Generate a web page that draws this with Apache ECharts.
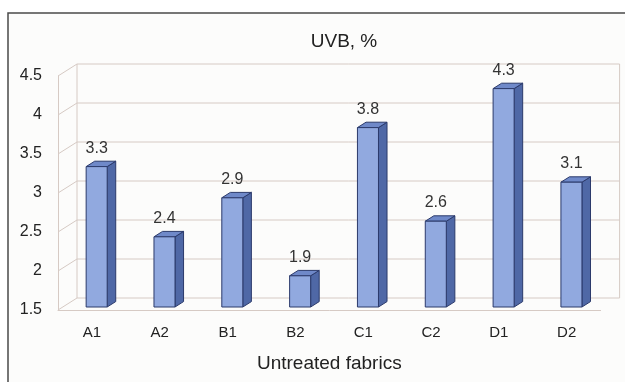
<!DOCTYPE html>
<html>
<head>
<meta charset="utf-8">
<script src="https://cdn.jsdelivr.net/npm/echarts@6/dist/echarts.min.js"></script>
<style>
  html, body { margin: 0; padding: 0; background: #ffffff; }
  #chart { width: 625px; height: 382px; }
</style>
</head>
<body>
<div id="chart"></div>
<script>
const categories = ['A1', 'A2', 'B1', 'B2', 'C1', 'C2', 'D1', 'D2'];
const uvbValues = [3.3, 2.4, 2.9, 1.9, 3.8, 2.6, 4.3, 3.1];
const yTicks = [1.5, 2, 2.5, 3, 3.5, 4, 4.5];
const yMin = 1.5, yMax = 4.5, yStep = 0.5;

const DX = 19, DY = -12;          // full depth offset of the back wall
const FRONT = 0.25, BACK = 0.70;  // bar depth position (fraction)
const GRID_COLOR = '#d6cac4';
const FONT = 'Liberation Sans, Arial, sans-serif';

const chart = echarts.init(document.getElementById('chart'), null, { renderer: 'canvas' });

function wallItem(params, api) {
  const cs = params.coordSys;
  const v = api.value(1);
  const y = api.coord([0, v])[1];
  const x0 = cs.x, x1 = cs.x + cs.width;
  const style = { stroke: GRID_COLOR, lineWidth: 1, fill: null };
  const children = [
    { type: 'line', shape: { x1: x0, y1: y, x2: x0 + DX, y2: y + DY }, style },
    { type: 'line', shape: { x1: x0 + DX, y1: y + DY, x2: x1 + DX, y2: y + DY }, style }
  ];
  if (params.dataIndex === 0) {
    const yTop = api.coord([0, yMax])[1];
    const yBot = api.coord([0, yMin])[1];
    children.push({ type: 'line', shape: { x1: x0 + DX, y1: yTop + DY, x2: x0 + DX, y2: yBot + DY }, style });
    children.push({ type: 'line', shape: { x1: x1 + DX, y1: yTop + DY, x2: x1 + DX, y2: yBot + DY }, style });
  }
  return { type: 'group', children };
}

function barItem(params, api) {
  const idx = api.value(0);
  const val = api.value(1);
  const top = api.coord([idx, val]);
  const base = api.coord([idx, yMin]);
  const band = api.size([1, 0])[0];
  const w = band * 0.31;
  const cx = top[0];
  const fx = FRONT * DX, fy = FRONT * DY, bx = BACK * DX, by = BACK * DY;
  const L = cx - w / 2, R = cx + w / 2;
  const outline = '#2b3a6b';
  return {
    type: 'group',
    children: [
      { type: 'polygon', shape: { points: [[R + fx, top[1] + fy], [R + bx, top[1] + by], [R + bx, base[1] + by], [R + fx, base[1] + fy]] },
        style: { fill: '#4f68a6', stroke: outline, lineWidth: 1 } },
      { type: 'polygon', shape: { points: [[L + fx, top[1] + fy], [L + bx, top[1] + by], [R + bx, top[1] + by], [R + fx, top[1] + fy]] },
        style: { fill: '#6f89c9', stroke: outline, lineWidth: 1 } },
      { type: 'rect', shape: { x: L + fx, y: top[1] + fy, width: w, height: base[1] - top[1] },
        style: { fill: '#91a9df', stroke: outline, lineWidth: 1 } },
      { type: 'text', style: { x: cx + fx, y: top[1] + by - 5, text: String(val), fill: '#333333',
        font: '16px ' + FONT, align: 'center', verticalAlign: 'bottom' } }
    ]
  };
}

chart.setOption({
  animation: false,
  backgroundColor: '#ffffff',
  graphic: [
    { type: 'rect', z: -10, shape: { x: 8, y: 13, width: 640, height: 400 },
      style: { fill: '#fcfcfb', stroke: '#4a4a4a', lineWidth: 1.5 } }
  ],
  title: {
    text: 'UVB, %', left: 339, top: 27, textAlign: 'center',
    textStyle: { fontFamily: FONT, fontSize: 19, fontWeight: 'normal', color: '#222222' }
  },
  grid: { left: 58, right: 24.4, top: 76, bottom: 72, containLabel: false, outerBoundsMode: 'none' },
  xAxis: {
    type: 'category', data: categories, boundaryGap: true,
    axisLine: { show: true, lineStyle: { color: GRID_COLOR, width: 1 } },
    axisTick: { show: false },
    axisLabel: { margin: 15, color: '#222222', fontFamily: FONT, fontSize: 15 },
    name: 'Untreated fabrics', nameLocation: 'middle', nameGap: 44,
    nameTextStyle: { color: '#222222', fontFamily: FONT, fontSize: 19 }
  },
  yAxis: {
    type: 'value', min: yMin, max: yMax, interval: yStep,
    axisLine: { show: true, lineStyle: { color: GRID_COLOR, width: 1 } },
    axisTick: { show: false },
    splitLine: { show: false },
    axisLabel: { margin: 16, color: '#222222', fontFamily: FONT, fontSize: 16 }
  },
  series: [
    { type: 'custom', z: 1, renderItem: wallItem, data: yTicks.map(v => [0, v]), silent: true },
    { type: 'custom', z: 5, renderItem: barItem, data: uvbValues.map((v, i) => [i, v]) }
  ]
});
</script>
</body>
</html>
